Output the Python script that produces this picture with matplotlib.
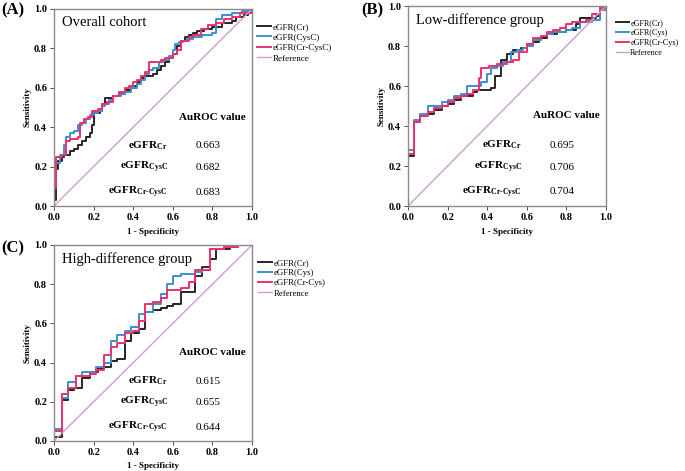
import matplotlib
matplotlib.use("Agg")
import matplotlib.pyplot as plt

plt.rcParams['font.family'] = ['Liberation Serif', 'DejaVu Serif']
plt.rcParams['mathtext.fontset'] = 'custom'
plt.rcParams['mathtext.rm'] = 'Liberation Serif'
plt.rcParams['mathtext.bf'] = 'Liberation Serif:bold'
plt.rcParams['mathtext.it'] = 'Liberation Serif:italic'

# ---------------- Data (step ROC vertices: fpr, tpr) ----------------
A_cr_fpr = [0, 0, 0.01, 0.02, 0.04, 0.05, 0.08, 0.10, 0.12, 0.14, 0.16, 0.18, 0.19, 0.20, 0.23, 0.24, 0.26, 0.30, 0.33, 0.36, 0.39, 0.41, 0.42, 0.44, 0.46, 0.50, 0.52, 0.54, 0.56, 0.58, 0.60, 0.62, 0.64, 0.66, 0.68, 0.70, 0.72, 0.76, 0.80, 0.85, 0.90, 0.92, 0.96, 0.98, 1.0]
A_cr_tpr = [0, 0.03, 0.19, 0.23, 0.25, 0.26, 0.28, 0.29, 0.31, 0.33, 0.35, 0.37, 0.41, 0.47, 0.48, 0.52, 0.55, 0.56, 0.57, 0.59, 0.60, 0.61, 0.63, 0.65, 0.66, 0.67, 0.69, 0.71, 0.73, 0.75, 0.77, 0.81, 0.84, 0.86, 0.87, 0.88, 0.89, 0.90, 0.91, 0.93, 0.94, 0.96, 0.97, 0.99, 1.0]
A_cys_fpr = [0, 0, 0.01, 0.03, 0.05, 0.06, 0.08, 0.10, 0.12, 0.14, 0.16, 0.18, 0.20, 0.22, 0.24, 0.26, 0.28, 0.30, 0.34, 0.36, 0.39, 0.42, 0.44, 0.46, 0.48, 0.50, 0.53, 0.55, 0.58, 0.60, 0.61, 0.63, 0.65, 0.67, 0.70, 0.75, 0.80, 0.82, 0.85, 0.90, 0.95, 1.0]
A_cys_tpr = [0, 0.12, 0.22, 0.26, 0.31, 0.35, 0.37, 0.38, 0.41, 0.42, 0.44, 0.46, 0.47, 0.48, 0.51, 0.52, 0.54, 0.56, 0.57, 0.58, 0.60, 0.62, 0.64, 0.67, 0.69, 0.70, 0.73, 0.74, 0.76, 0.79, 0.82, 0.83, 0.84, 0.85, 0.86, 0.87, 0.88, 0.95, 0.97, 0.98, 0.99, 1.0]
A_crcys_fpr = [0, 0, 0.01, 0.04, 0.06, 0.08, 0.12, 0.13, 0.15, 0.17, 0.19, 0.22, 0.24, 0.27, 0.30, 0.33, 0.36, 0.38, 0.40, 0.42, 0.44, 0.46, 0.48, 0.52, 0.54, 0.56, 0.60, 0.62, 0.64, 0.68, 0.70, 0.74, 0.78, 0.82, 0.86, 0.90, 0.94, 1.0]
A_crcys_tpr = [0, 0.09, 0.25, 0.26, 0.33, 0.34, 0.35, 0.42, 0.44, 0.45, 0.48, 0.49, 0.52, 0.53, 0.56, 0.58, 0.60, 0.61, 0.63, 0.64, 0.66, 0.68, 0.73, 0.73, 0.74, 0.75, 0.77, 0.79, 0.84, 0.86, 0.87, 0.90, 0.92, 0.93, 0.95, 0.96, 0.98, 1.0]

B_cr_fpr = [0, 0, 0.03, 0.06, 0.09, 0.13, 0.17, 0.20, 0.23, 0.27, 0.30, 0.33, 0.35, 0.42, 0.44, 0.47, 0.50, 0.53, 0.57, 0.60, 0.63, 0.66, 0.70, 0.75, 0.80, 0.85, 0.87, 0.95, 0.97, 1.0]
B_cr_tpr = [0, 0.25, 0.42, 0.45, 0.46, 0.48, 0.50, 0.51, 0.53, 0.55, 0.55, 0.57, 0.58, 0.59, 0.65, 0.73, 0.76, 0.78, 0.79, 0.81, 0.82, 0.84, 0.86, 0.87, 0.88, 0.91, 0.94, 0.95, 0.99, 1.0]
B_cys_fpr = [0, 0, 0.03, 0.06, 0.10, 0.13, 0.17, 0.20, 0.23, 0.27, 0.30, 0.35, 0.37, 0.40, 0.42, 0.45, 0.48, 0.52, 0.55, 0.58, 0.60, 0.63, 0.67, 0.70, 0.73, 0.77, 0.80, 0.83, 0.87, 0.93, 0.97, 1.0]
B_cys_tpr = [0, 0.28, 0.43, 0.46, 0.50, 0.50, 0.52, 0.53, 0.55, 0.56, 0.60, 0.60, 0.62, 0.66, 0.69, 0.70, 0.72, 0.77, 0.78, 0.79, 0.80, 0.83, 0.85, 0.86, 0.87, 0.87, 0.88, 0.89, 0.92, 0.93, 0.98, 1.0]
B_crcys_fpr = [0, 0, 0.03, 0.06, 0.10, 0.13, 0.17, 0.20, 0.23, 0.27, 0.30, 0.33, 0.36, 0.37, 0.41, 0.45, 0.50, 0.53, 0.56, 0.60, 0.63, 0.67, 0.70, 0.73, 0.77, 0.80, 0.83, 0.90, 0.93, 0.97, 1.0]
B_crcys_tpr = [0, 0.26, 0.42, 0.45, 0.47, 0.49, 0.50, 0.52, 0.54, 0.55, 0.56, 0.58, 0.64, 0.69, 0.70, 0.71, 0.72, 0.73, 0.77, 0.81, 0.84, 0.85, 0.87, 0.88, 0.89, 0.91, 0.92, 0.93, 0.96, 0.99, 1.0]

C_cr_fpr = [0, 0, 0.04, 0.07, 0.10, 0.14, 0.18, 0.22, 0.25, 0.29, 0.32, 0.36, 0.39, 0.43, 0.46, 0.50, 0.54, 0.57, 0.60, 0.64, 0.71, 0.75, 0.79, 0.82, 0.89, 0.93, 1.0]
C_cr_tpr = [0, 0.02, 0.21, 0.26, 0.27, 0.32, 0.35, 0.37, 0.38, 0.41, 0.42, 0.51, 0.55, 0.57, 0.66, 0.67, 0.68, 0.69, 0.70, 0.76, 0.84, 0.89, 0.93, 0.98, 0.99, 1.0, 1.0]
C_cys_fpr = [0, 0, 0.04, 0.07, 0.11, 0.14, 0.21, 0.25, 0.29, 0.32, 0.36, 0.39, 0.43, 0.46, 0.50, 0.54, 0.57, 0.60, 0.64, 0.71, 0.75, 0.79, 0.86, 0.93, 1.0]
C_cys_tpr = [0, 0.06, 0.22, 0.30, 0.33, 0.35, 0.38, 0.40, 0.51, 0.54, 0.56, 0.58, 0.65, 0.66, 0.70, 0.75, 0.80, 0.84, 0.85, 0.86, 0.87, 0.98, 0.99, 1.0, 1.0]
C_crcys_fpr = [0, 0, 0.04, 0.07, 0.11, 0.18, 0.21, 0.25, 0.29, 0.32, 0.36, 0.40, 0.43, 0.46, 0.50, 0.54, 0.57, 0.64, 0.68, 0.71, 0.75, 0.79, 0.86, 0.93, 1.0]
C_crcys_tpr = [0, 0.05, 0.24, 0.27, 0.33, 0.34, 0.36, 0.44, 0.48, 0.50, 0.55, 0.56, 0.61, 0.70, 0.71, 0.73, 0.77, 0.78, 0.81, 0.87, 0.87, 0.98, 0.99, 1.0, 1.0]

panel_letters = ['(A)', '(B)', '(C)']
panel_titles = ['Overall cohort', 'Low-difference group', 'High-difference group']
legend_labels = [
    ['eGFR(Cr)', 'eGFR(CysC)', 'eGFR(Cr-CysC)', 'Reference'],
    ['eGFR(Cr)', 'eGFR(Cys)', 'eGFR(Cr-Cys)', 'Reference'],
    ['eGFR(Cr)', 'eGFR(Cys)', 'eGFR(Cr-Cys)', 'Reference'],
]
auc_labels = [r'$\mathbf{eGFR}_{\mathbf{Cr}}$', r'$\mathbf{eGFR}_{\mathbf{CysC}}$',
              r'$\mathbf{eGFR}_{\mathbf{Cr\text{-}CysC}}$']
auc_values = [['0.663', '0.682', '0.683'],
              ['0.695', '0.706', '0.704'],
              ['0.615', '0.655', '0.644']]
ticks = [0.0, 0.2, 0.4, 0.6, 0.8, 1.0]
tick_labels = ['0.0', '0.2', '0.4', '0.6', '0.8', '1.0']

curves = [
    [(A_cr_fpr, A_cr_tpr), (A_cys_fpr, A_cys_tpr), (A_crcys_fpr, A_crcys_tpr)],
    [(B_cr_fpr, B_cr_tpr), (B_cys_fpr, B_cys_tpr), (B_crcys_fpr, B_crcys_tpr)],
    [(C_cr_fpr, C_cr_tpr), (C_cys_fpr, C_cys_tpr), (C_crcys_fpr, C_crcys_tpr)],
]
colors = ['#262626', '#3a8fd2', '#f0306a']
ref_color = '#d39ad3'

W, H = 685, 471
fig = plt.figure(figsize=(W / 100, H / 100), dpi=100)
fig.patch.set_facecolor('white')

# axes boxes in pixels: left, top, right, bottom
boxes = [(54, 9, 252, 206), (408, 6, 606, 206), (54, 245, 252, 441)]
letter_pos = [(1, 10), (361, 10), (1, 248)]
legend_anchor = [(1.025, 0.93), (1.05, 0.935), (1.03, 0.93)]
legend_size = [6.5, 5.9, 6.3]

for i in range(3):
    l, t, r, b = boxes[i]
    ax = fig.add_axes([l / W, 1 - b / H, (r - l) / W, (b - t) / H])
    for (fx, ty), c in zip(curves[i], colors):
        ax.step(fx, ty, where='post', color=c, lw=1.4)
    ax.plot([0, 1], [0, 1], color=ref_color, lw=1.0)
    ax.set_xlim(0, 1)
    ax.set_ylim(0, 1)
    ax.set_xticks(ticks)
    ax.set_xticklabels(tick_labels)
    ax.set_yticks(ticks)
    ax.set_yticklabels(tick_labels)
    ax.tick_params(labelsize=7.5, length=3, width=0.6, colors='#333333', pad=2)
    for lab in ax.get_xticklabels() + ax.get_yticklabels():
        lab.set_fontweight('bold')
        lab.set_color('black')
    for s in ax.spines.values():
        s.set_color('#8a8a8a')
        s.set_linewidth(1.0)
    ax.set_xlabel('1 - Specificity', fontsize=6.5, fontweight='bold', labelpad=4)
    ax.set_ylabel('Sensitivity', fontsize=6.5, fontweight='bold', labelpad=2)

    ax.text(0.04, 0.965, panel_titles[i], transform=ax.transAxes, fontsize=10.5,
            ha='left', va='top')
    ax.text(0.8, 0.45, 'AuROC value', transform=ax.transAxes, fontsize=8,
            fontweight='bold', ha='center', va='center')
    ys = [0.305, 0.195, 0.07]
    for k in range(3):
        ax.text(0.575, ys[k], auc_labels[k], transform=ax.transAxes, fontsize=8,
                ha='right', va='center')
        ax.text(0.78, ys[k], auc_values[i][k], transform=ax.transAxes, fontsize=8,
                ha='center', va='center')

    handles = ax.get_lines()
    ax.legend(handles[:4], legend_labels[i], loc='upper left',
              bbox_to_anchor=legend_anchor[i], frameon=False, fontsize=legend_size[i],
              handlelength=1.6, handletextpad=0.15, labelspacing=0.24,
              borderaxespad=0.0, borderpad=0.0)

    fig.text(letter_pos[i][0] / W, 1 - letter_pos[i][1] / H, panel_letters[i],
             fontsize=12, fontweight='bold', ha='left', va='center')

fig.savefig('out.png', dpi=100)
